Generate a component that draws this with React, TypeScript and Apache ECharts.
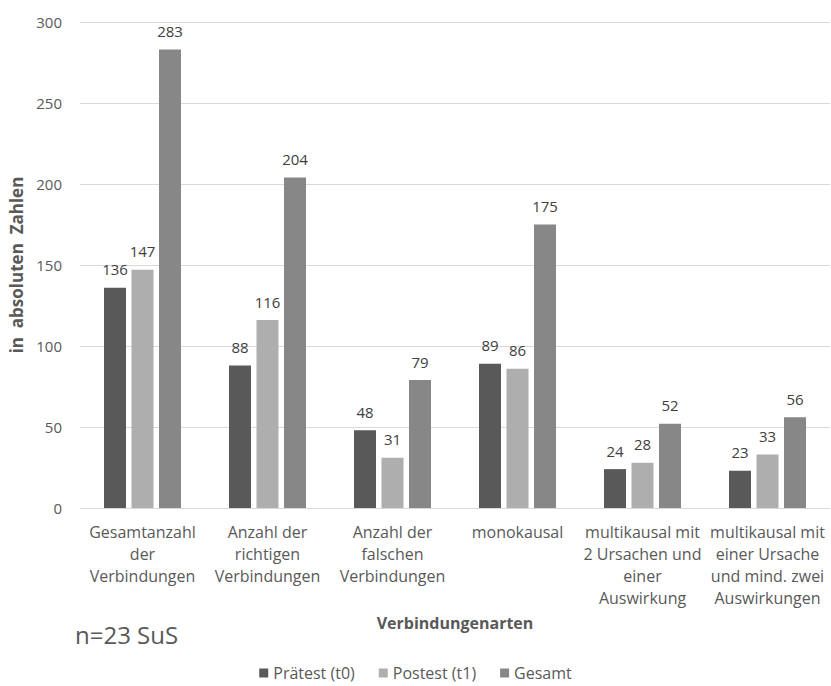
import React, { useEffect, useRef } from "react";
import * as echarts from "echarts";

const categories = [
  "Gesamtanzahl\nder\nVerbindungen",
  "Anzahl der\nrichtigen\nVerbindungen",
  "Anzahl der\nfalschen\nVerbindungen",
  "monokausal",
  "multikausal mit\n2 Ursachen und\neiner\nAuswirkung",
  "multikausal mit\neiner Ursache\nund mind. zwei\nAuswirkungen",
];
const seriesNames = ["Prätest (t0)", "Postest (t1)", "Gesamt"];
const praetest = [136, 88, 48, 89, 24, 23];
const posttest = [147, 116, 31, 86, 28, 33];
const gesamt = [283, 204, 79, 175, 52, 56];
const colors = ["#595959", "#aeaeae", "#878787"];

const FONT = "'Open Sans', sans-serif";

export default function App() {
  const ref = useRef<HTMLDivElement>(null);
  useEffect(() => {
    const chart = echarts.init(ref.current!, undefined, { renderer: "svg" });
    const data = [praetest, posttest, gesamt];
    chart.setOption({
      animation: false,
      textStyle: { fontFamily: FONT },
      grid: { left: 80, right: 1, top: 22, bottom: 178 },
      legend: {
        top: 665,
        left: "center",
        padding: 0,
        itemWidth: 9,
        itemHeight: 9,
        itemGap: 24,
        icon: "rect",
        textStyle: { fontSize: 16, color: "#595959", fontFamily: FONT },
        data: seriesNames,
      },
      xAxis: {
        type: "category",
        data: categories,
        name: "Verbindungenarten",
        nameLocation: "middle",
        nameGap: 107,
        nameMoveOverlap: false,
        nameTextStyle: { fontSize: 16, fontWeight: "bold", color: "#595959", fontFamily: FONT },
        axisTick: { show: false },
        axisLine: { lineStyle: { color: "#d9d9d9" } },
        axisLabel: {
          interval: 0,
          fontSize: 16,
          color: "#595959",
          lineHeight: 22,
          margin: 13,
          fontFamily: FONT,
        },
      },
      yAxis: {
        type: "value",
        min: 0,
        max: 300,
        interval: 50,
        name: "in  absoluten  Zahlen",
        nameLocation: "middle",
        nameGap: 55,
        nameMoveOverlap: false,
        nameTextStyle: { fontSize: 17, fontWeight: "bold", color: "#595959", fontFamily: FONT },
        axisLabel: { fontSize: 15, color: "#595959", margin: 18, fontFamily: FONT },
        splitLine: { lineStyle: { color: "#d9d9d9" } },
        axisLine: { show: false },
        axisTick: { show: false },
      },
      graphic: [
        {
          type: "text",
          left: 75,
          top: 622,
          style: { text: "n=23 SuS", fontSize: 24, fill: "#595959", fontFamily: FONT },
        },
      ],
      series: seriesNames.map((name, i) => ({
        name,
        type: "bar",
        data: data[i],
        barWidth: 22,
        barGap: "25%",
        itemStyle: { color: colors[i] },
        label: {
          show: true,
          position: "top",
          distance: 11,
          fontSize: 15,
          color: "#404040",
          fontFamily: FONT,
        },
      })),
    });
    return () => chart.dispose();
  }, []);
  return <div ref={ref} style={{ width: 831, height: 686, position: "absolute", left: 0, top: 0 }} />;
}
